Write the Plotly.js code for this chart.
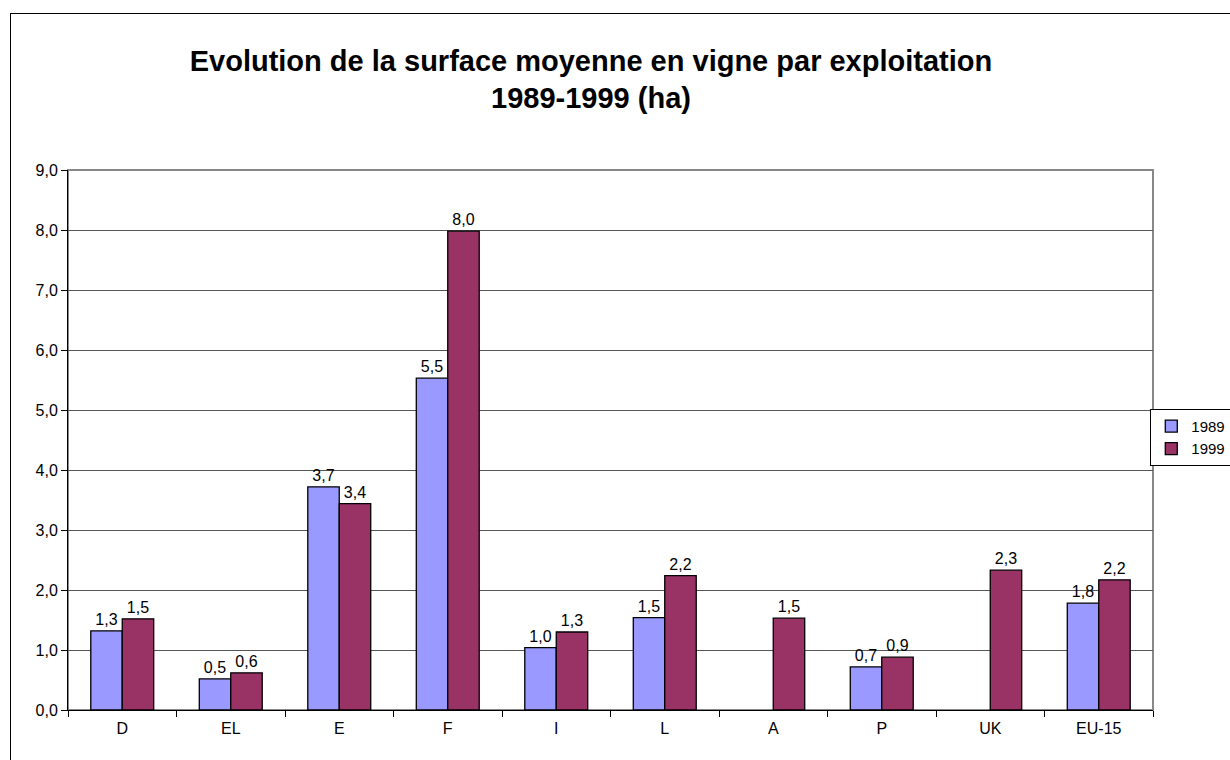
<!DOCTYPE html>
<html>
<head>
<meta charset="utf-8">
<script src="https://cdn.plot.ly/plotly-3.0.1.min.js"></script>
<style>
html,body{margin:0;padding:0;background:#fff;overflow:hidden;}
#wrap{position:relative;width:1230px;height:760px;overflow:hidden;}
#chart{width:1230px;height:760px;}
#frame{position:absolute;left:10px;top:13px;width:1400px;height:900px;border-left:1px solid #000;border-top:1px solid #000;pointer-events:none;}
</style>
</head>
<body>
<div id="wrap">
<div id="chart"></div>
<div id="frame"></div>
</div>
<script>
const categories = ["D","EL","E","F","I","L","A","P","UK","EU-15"];
const values1989 = [1.32, 0.52, 3.72, 5.53, 1.04, 1.54, null, 0.72, null, 1.78];
const values1999 = [1.52, 0.62, 3.44, 7.98, 1.30, 2.24, 1.53, 0.88, 2.33, 2.17];
const seriesNames = ["1989", "1999"];
const yTicks = [0,1,2,3,4,5,6,7,8,9];

const font = {family: "Liberation Sans, Arial, sans-serif", size: 16, color: "#000"};
const legendFont = {family: "Liberation Sans, Arial, sans-serif", size: 15, color: "#000"};

const traces = [
  {type: "bar", name: seriesNames[0], x: categories, y: values1989,
   marker: {color: "#9999FF", line: {color: "#000", width: 1.3}},
   texttemplate: "%{y:.1f}", textposition: "outside", cliponaxis: false,
   textfont: font},
  {type: "bar", name: seriesNames[1], x: categories, y: values1999,
   marker: {color: "#993366", line: {color: "#000", width: 1.3}},
   texttemplate: "%{y:.1f}", textposition: "outside", cliponaxis: false,
   textfont: font}
];

const layout = {
  width: 1230, height: 760,
  margin: {l: 68, r: 77, t: 170, b: 50, autoexpand: false},
  paper_bgcolor: "#fff", plot_bgcolor: "#fff",
  separators: ", ",
  font: font,
  barmode: "group",
  bargap: 0.42,
  bargroupgap: 0,
  showlegend: true,
  title: {
    text: "<b>Evolution de la surface moyenne en vigne par exploitation<br>1989-1999 (ha)</b>",
    font: {family: "Liberation Sans, Arial, sans-serif", size: 29, color: "#000"},
    x: 0.482, xref: "paper", xanchor: "center",
    y: 0.907, yref: "container", yanchor: "top"
  },
  xaxis: {
    type: "category",
    showline: true, linecolor: "#000", linewidth: 1,
    ticks: "outside", tickson: "boundaries", ticklen: 6, tickcolor: "#000",
    ticklabelstandoff: 4,
    showgrid: false, tickfont: font, fixedrange: true
  },
  yaxis: {
    range: [0, 9],
    tickvals: yTicks, tickformat: ".1f",
    showline: true, linecolor: "#000", linewidth: 1,
    ticks: "outside", ticklen: 6, tickcolor: "#000",
    showgrid: true, gridcolor: "#555", gridwidth: 1,
    zeroline: false, tickfont: font, fixedrange: true
  },
  legend: {
    x: 0.9975, xanchor: "left", y: 0.505, yanchor: "middle",
    bordercolor: "#000", borderwidth: 1, bgcolor: "#fff",
    font: legendFont, itemwidth: 30, tracegroupgap: 0
  },
  shapes: [
    {type: "rect", xref: "paper", yref: "paper", x0: 0, x1: 1, y0: 0, y1: 1,
     line: {color: "#888", width: 2}, layer: "below"}
  ]
};

Plotly.newPlot("chart", traces, layout, {displayModeBar: false, staticPlot: true});
</script>
</body>
</html>
